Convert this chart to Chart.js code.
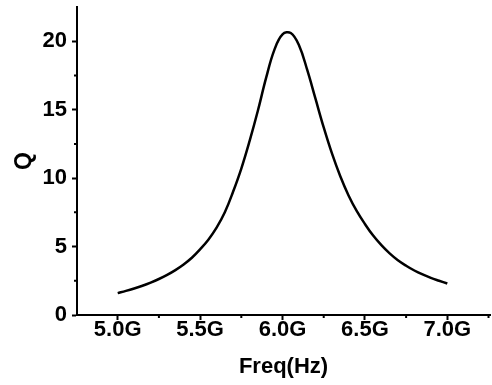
<!DOCTYPE html>
<html>
<head>
<meta charset="utf-8">
<script src="https://cdn.jsdelivr.net/npm/chart.js@4"></script>
<style>
  html, body { margin: 0; padding: 0; background: #fff; }
  #wrap { width: 492px; height: 385px; }
</style>
</head>
<body>
<div id="wrap"><canvas id="chartQ" width="492" height="385"></canvas></div>
<script>
// Datos (frecuencia en GHz, factor Q)
const freqGHz = [5.00, 5.05, 5.10, 5.15, 5.20, 5.25, 5.30, 5.35, 5.40, 5.45, 5.50, 5.55, 5.60, 5.65, 5.70, 5.75, 5.80, 5.85, 5.90, 5.95, 6.00, 6.05, 6.10, 6.15, 6.20, 6.25, 6.30, 6.35, 6.40, 6.45, 6.50, 6.55, 6.60, 6.65, 6.70, 6.75, 6.80, 6.85, 6.90, 6.95, 7.00];
const qValues = [1.6, 1.76, 1.94, 2.14, 2.37, 2.63, 2.93, 3.28, 3.69, 4.18, 4.8, 5.5, 6.38, 7.5, 9.0, 10.7, 12.7, 14.9, 17.3, 19.35, 20.5, 20.6, 19.7, 17.9, 15.8, 13.7, 11.8, 10.15, 8.75, 7.6, 6.65, 5.8, 5.1, 4.5, 4.0, 3.6, 3.25, 2.96, 2.71, 2.5, 2.3];
const xTicks = [5.0, 5.5, 6.0, 6.5, 7.0];
const xMinorTicks = [5.25, 5.75, 6.25, 6.75, 7.25];
const yTicks = [0, 5, 10, 15, 20];
const yMinorTicks = [2.5, 7.5, 12.5, 17.5];

const fuente = 'Liberation Sans, Arial, sans-serif';

// Ticks menores (Chart.js no los trae)
const minorTicksPlugin = {
  id: 'minorTicks',
  afterDraw(chart) {
    const ctx = chart.ctx;
    const xs = chart.scales.x;
    const ys = chart.scales.y;
    ctx.save();
    ctx.strokeStyle = '#000';
    ctx.lineWidth = 2;
    ctx.beginPath();
    xMinorTicks.forEach(v => {
      const px = xs.getPixelForValue(v);
      ctx.moveTo(px, xs.top);
      ctx.lineTo(px, xs.top + 3);
    });
    yMinorTicks.forEach(v => {
      const py = ys.getPixelForValue(v);
      ctx.moveTo(ys.right, py);
      ctx.lineTo(ys.right - 3, py);
    });
    ctx.stroke();
    ctx.restore();
  }
};

new Chart(document.getElementById('chartQ'), {
  type: 'line',
  data: {
    datasets: [{
      data: freqGHz.map((f, i) => ({ x: f, y: qValues[i] })),
      borderColor: '#000',
      borderWidth: 2.5,
      pointRadius: 0,
      tension: 0.4,
      fill: false
    }]
  },
  options: {
    responsive: false,
    animation: false,
    layout: { padding: { top: 7, right: 2, left: 0, bottom: 0 } },
    plugins: { legend: { display: false }, tooltip: { enabled: false } },
    scales: {
      x: {
        type: 'linear',
        min: 4.753,
        max: 7.259,
        afterBuildTicks: s => { s.ticks = xTicks.map(v => ({ value: v })); },
        afterFit: s => { s.height = 70; s.paddingLeft = 0; s.paddingRight = 0; },
        border: { display: true, color: '#000', width: 2 },
        grid: { drawOnChartArea: false, tickLength: 5, tickColor: '#000', tickWidth: 2 },
        ticks: {
          color: '#000',
          padding: -3,
          maxRotation: 0,
          font: { family: fuente, size: 22, weight: 'bold' },
          callback: v => v.toFixed(1) + 'G'
        },
        title: {
          display: true,
          text: 'Freq(Hz)',
          color: '#000',
          font: { family: fuente, size: 22, weight: 'bold' },
          padding: { top: 0, bottom: 5 }
        }
      },
      y: {
        min: 0,
        max: 22.5,
        afterBuildTicks: s => { s.ticks = yTicks.map(v => ({ value: v })); },
        afterFit: s => { s.width = 77; s.paddingTop = 0; s.paddingBottom = 0; },
        border: { display: true, color: '#000', width: 2 },
        grid: { drawOnChartArea: false, tickLength: 5, tickColor: '#000', tickWidth: 2 },
        ticks: {
          color: '#000',
          padding: 5,
          font: { family: fuente, size: 22, weight: 'bold' }
        },
        title: {
          display: true,
          text: 'Q',
          color: '#000',
          font: { family: fuente, size: 23, weight: 'bold' },
          padding: { top: 11, bottom: 0 }
        }
      }
    }
  },
  plugins: [minorTicksPlugin]
});
</script>
</body>
</html>
